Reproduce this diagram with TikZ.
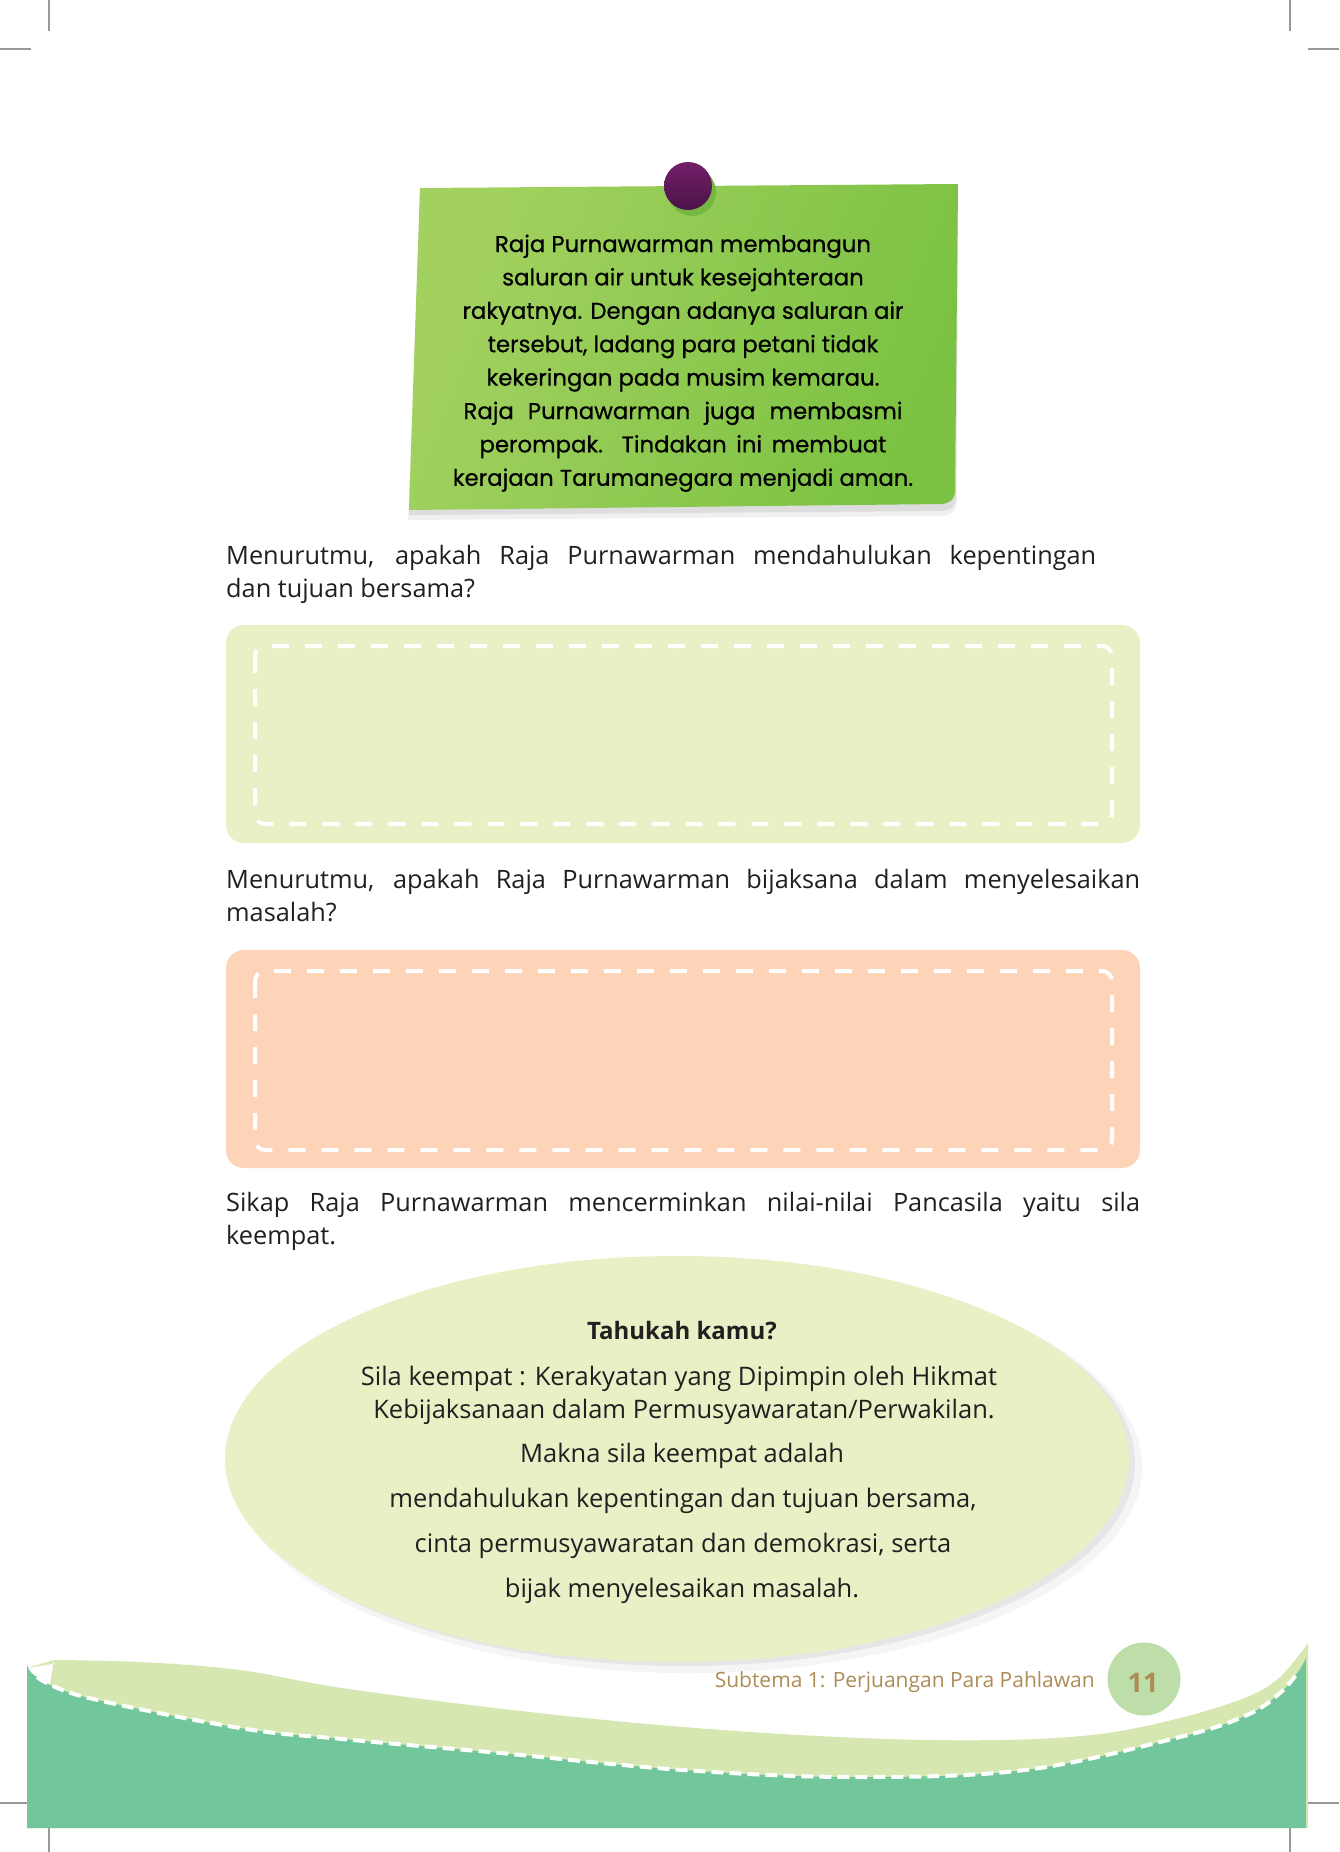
\documentclass[tikz,border=0pt]{standalone}
\usepackage{fontspec}
\setmainfont{Open Sans}
\newfontfamily\notefont[FakeBold=0.6]{Poppins}
\definecolor{boxgreen}{HTML}{E8F0C6}
\definecolor{boxpeach}{HTML}{FDD4B8}
\definecolor{wavedark}{HTML}{71C69C}
\definecolor{wavelight}{HTML}{D6E7B1}
\definecolor{pagecirc}{HTML}{BDDDA9}
\definecolor{tanbrown}{HTML}{AD8C55}
\definecolor{textdark}{HTML}{231F20}
\definecolor{cropgray}{HTML}{999999}
\definecolor{pintop}{HTML}{732069}
\definecolor{pinbottom}{HTML}{4A1347}
\definecolor{pinshadow}{HTML}{74B843}
\definecolor{notelight}{HTML}{D2E8A4}
\definecolor{notegreen}{HTML}{7BC242}
\definecolor{noteleft}{HTML}{A3D160}
\begin{document}
\begin{tikzpicture}[x=1pt,y=-1pt,
  cropmark/.style={draw=cropgray,line width=2.5pt},
  answerbox/.style={rounded corners=18pt},
  dashframe/.style={draw=white,line width=4pt,rounded corners=10pt,dash pattern=on 17pt off 16pt},
  qtext/.style={anchor=base west,inner sep=0pt,font=\fontsize{25.3}{29}\selectfont,text=textdark},
  notetext/.style={anchor=base,inner sep=0pt,font=\notefont\fontsize{22.8}{26}\selectfont,text=black},
  elltext/.style={anchor=base,inner sep=0pt,font=\fontsize{25.5}{29}\selectfont,text=textdark}
]
\useasboundingbox (0,0) rectangle (1339,1852);
\fill[white] (0,0) rectangle (1339,1852);

% crop marks
\draw[cropmark] (49,0) -- (49,31);
\draw[cropmark] (0,49) -- (31,49);
\draw[cropmark] (1290,0) -- (1290,31);
\draw[cropmark] (1308,49) -- (1339,49);
\draw[cropmark] (0,1803) -- (31,1803);
\draw[cropmark] (49,1828) -- (49,1852);
\draw[cropmark] (1308,1803) -- (1339,1803);
\draw[cropmark] (1290,1828) -- (1290,1852);

% sticky note
\fill[black,opacity=0.06] (420,196) -- (958,192) -- (957,502) .. controls (956,512) and (950,516) .. (940,516) -- (408,520) -- cycle;
\fill[black,opacity=0.08] (420,192) -- (958,188) -- (956,498) .. controls (955,507) and (950,511) .. (940,511) -- (409,515) -- cycle;
\shade[left color=noteleft, middle color=notelight, right color=notegreen, shading angle=68]
  (420,188) -- (958,184) -- (955,492) .. controls (954,500) and (950,503) .. (942,504) -- (409,510) -- cycle;
\fill[pinshadow] (692,192) circle (24);
\shade[top color=pintop, bottom color=pinbottom] (688,186) circle (24);

\node[notetext] (n1) at (683,252) {Raja Purnawarman membangun};
\node[notetext] (n2) at (683,285.4) {saluran air untuk kesejahteraan};
\node[notetext] (n3) at (683,318.8) {rakyatnya. Dengan adanya saluran air};
\node[notetext] (n4) at (683,352.2) {tersebut, ladang para petani tidak};
\node[notetext] (n5) at (683,385.6) {kekeringan pada musim kemarau.};
\node[notetext] (n6) at (683,419) {\makebox[439pt][s]{Raja Purnawarman juga membasmi}};
\node[notetext] (n7) at (683,452.4) {\makebox[407pt][s]{perompak. Tindakan ini membuat}};
\node[notetext] (n8) at (683,485.8) {kerajaan Tarumanegara menjadi aman.};

% question 1
\node[qtext] (q1a) at (226,564) {\makebox[870pt][s]{Menurutmu, apakah Raja Purnawarman mendahulukan kepentingan}};
\node[qtext] (q1b) at (226,597) {dan tujuan bersama?};
\fill[boxgreen,answerbox] (226,625) rectangle (1140,843);
\draw[dashframe] (255,646) rectangle (1112,824);

% question 2
\node[qtext] (q2a) at (226,888) {\makebox[914pt][s]{Menurutmu, apakah Raja Purnawarman bijaksana dalam menyelesaikan}};
\node[qtext] (q2b) at (226,921) {masalah?};
\fill[boxpeach,answerbox] (226,950) rectangle (1140,1168);
\draw[dashframe] (255,971) rectangle (1112,1150);

% statement
\node[qtext] (s1) at (226,1211) {\makebox[914pt][s]{Sikap Raja Purnawarman mencerminkan nilai-nilai Pancasila yaitu sila}};
\node[qtext] (s2) at (226,1244) {keempat.};

% ellipse
\fill[black,opacity=0.04] (687,1467) ellipse [x radius=455, y radius=206];
\fill[black,opacity=0.06] (683,1463) ellipse [x radius=452, y radius=203];
\fill[boxgreen] (677,1459) ellipse [x radius=452, y radius=203];
\node[elltext,font=\bfseries\fontsize{24}{28}\selectfont] (e0) at (682,1339) {Tahukah kamu?};
\node[elltext] (e1) at (679,1385) {Sila keempat : Kerakyatan yang Dipimpin oleh Hikmat};
\node[elltext] (e2) at (684,1418) {Kebijaksanaan dalam Permusyawaratan/Perwakilan.};
\node[elltext] (e3) at (682,1462) {Makna sila keempat adalah};
\node[elltext] (e4) at (683,1507) {mendahulukan kepentingan dan tujuan bersama,};
\node[elltext] (e5) at (683,1552) {cinta permusyawaratan dan demokrasi, serta};
\node[elltext] (e6) at (682,1597) {bijak menyelesaikan masalah.};

% bottom wave
\fill[wavelight] (27,1668) -- (52,1664) -- (54,1660)
  plot[smooth,tension=0.6] coordinates {(54,1660) (140,1662) (240,1670) (342,1688) (512,1710) (683,1727) (860,1738) (1000,1740) (1100,1734) (1180,1718) (1247,1697) (1280,1677) (1308,1643)}
  -- (1308,1828) -- (27,1828) -- cycle;
\fill[wavedark] plot[smooth,tension=0.6] coordinates {(27,1664) (37,1677) (85,1697) (240,1728) (342,1739) (500,1753) (683,1770) (854,1777) (1025,1770) (1180,1737) (1247,1715) (1280,1693) (1298,1672) (1306,1658)}
  -- (1306,1828) -- (27,1828) -- cycle;
\draw[white,line width=4pt,dash pattern=on 12pt off 6pt] plot[smooth,tension=0.6] coordinates {(37,1677) (85,1697) (240,1728) (342,1739) (500,1753) (683,1770) (854,1777) (1025,1770) (1180,1737) (1247,1715) (1280,1693) (1298,1672)};

% footer
\fill[pagecirc] (1144,1679) circle (36.5);
\node[anchor=base,inner sep=0pt,font=\bfseries\fontsize{27}{30}\selectfont,text=tanbrown] (pg) at (1143,1692) {11};
\node[anchor=base east,inner sep=0pt,font=\fontsize{21}{24}\selectfont,text=tanbrown] (sub) at (1095,1687) {Subtema 1: Perjuangan Para Pahlawan};
\end{tikzpicture}
\end{document}
